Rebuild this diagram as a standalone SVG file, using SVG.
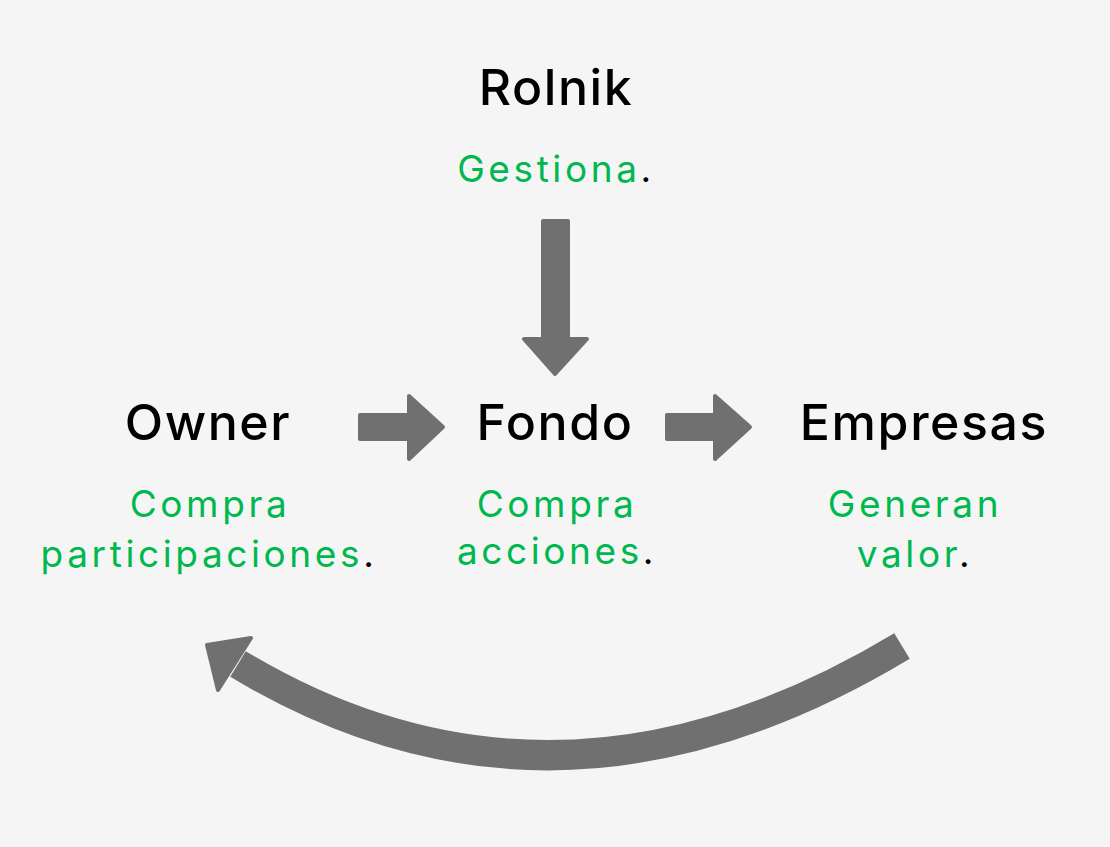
<svg xmlns="http://www.w3.org/2000/svg" width="1110" height="847" viewBox="0 0 1110 847">
<style>
.t{font-family:Inter,"Noto Sans","Liberation Sans",sans-serif;font-size:50px;font-weight:500;fill:#000;text-anchor:middle;letter-spacing:1.6px}
.g{font-family:Inter,"Noto Sans","Liberation Sans",sans-serif;font-size:37px;font-weight:400;fill:#00b84e;text-anchor:middle;letter-spacing:3.6px}
.k{fill:#000}
.a{fill:#707070;stroke:#707070;stroke-width:4;stroke-linejoin:round}
</style>
<rect width="1110" height="847" fill="#f5f5f5"/>
<g id="rolnik">
<text class="t" x="556" y="105">Rolnik</text>
<text class="g" x="556" y="182">Gestiona<tspan class="k">.</tspan></text>
</g>
<g id="owner">
<text class="t" x="208" y="440">Owner</text>
<text class="g" x="210" y="517">Compra</text>
<text class="g" x="209" y="567">participaciones<tspan class="k">.</tspan></text>
</g>
<g id="fondo">
<text class="t" x="555" y="440">Fondo</text>
<text class="g" x="557" y="517">Compra</text>
<text class="g" x="557" y="564">acciones<tspan class="k">.</tspan></text>
</g>
<g id="empresas">
<text class="t" x="924" y="440">Empresas</text>
<text class="g" x="915" y="517">Generan</text>
<text class="g" x="915" y="567">valor<tspan class="k">.</tspan></text>
</g>
<g id="connectors">
<polygon class="a" points="543,221 568,221 568,339 587,339 555,374 524,339 543,339"/>
<polygon class="a" points="360,415 409,415 409,396 443,427 409,459 409,439 360,439"/>
<polygon class="a" points="667,415 715,415 715,396 750,427 715,459 715,439 667,439"/>
<path d="M902,646 Q555,855 238,664" fill="none" stroke="#707070" stroke-width="30"/>
<polygon class="a" points="207,645 251,638 218,690"/>
</g>
</svg>
